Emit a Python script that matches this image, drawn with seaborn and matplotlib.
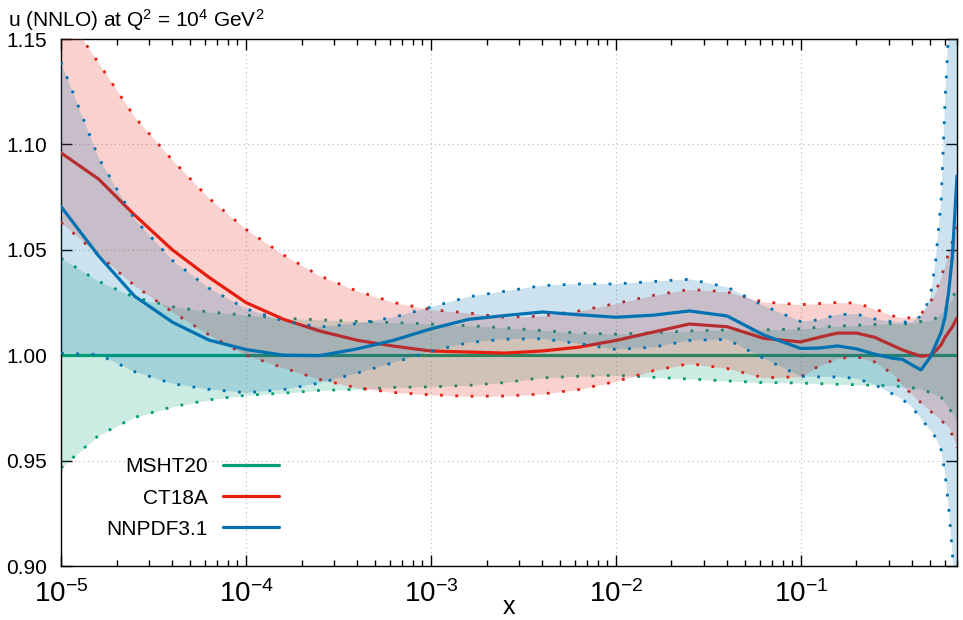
import numpy as np
import pandas as pd
import matplotlib
matplotlib.use("Agg")
import matplotlib.pyplot as plt
import seaborn as sns
from matplotlib.ticker import LogLocator, NullFormatter

# x grid
x_vals = [1e-5, 1.6e-5, 2.5e-5, 4e-5, 6.3e-5,
          1e-4, 1.6e-4, 2.5e-4, 4e-4, 6.3e-4,
          1e-3, 1.6e-3, 2.5e-3, 4e-3, 6.3e-3,
          1e-2, 1.6e-2, 2.5e-2, 4e-2, 6.3e-2,
          0.100, 0.126, 0.158, 0.200, 0.251, 0.316, 0.355, 0.398,
          0.447, 0.501, 0.537, 0.575, 0.603, 0.631, 0.661, 0.700]

msht_c = [1.0] * len(x_vals)
msht_up = [1.046, 1.035, 1.0275, 1.023, 1.0205, 1.019, 1.0175, 1.0168, 1.016, 1.0155,
           1.0148, 1.014, 1.013, 1.0117, 1.0105, 1.010, 1.0107, 1.0115, 1.012, 1.012,
           1.0125, 1.0133, 1.0138, 1.0142, 1.0146, 1.015, 1.0148, 1.0152, 1.016, 1.0165,
           1.0175, 1.020, 1.022, 1.024, 1.027, 1.032]
msht_lo = [0.9465, 0.962, 0.9705, 0.9755, 0.9788, 0.981, 0.982, 0.9833, 0.9838, 0.9847,
           0.985, 0.9857, 0.987, 0.9893, 0.990, 0.9905, 0.9895, 0.9887, 0.9878, 0.987,
           0.9868, 0.9865, 0.9862, 0.986, 0.9857, 0.9855, 0.985, 0.9845, 0.984, 0.9823,
           0.9812, 0.980, 0.9775, 0.975, 0.9725, 0.968]

ct18_c = [1.096, 1.0835, 1.0665, 1.050, 1.037, 1.025, 1.017, 1.0115, 1.0071, 1.0043,
          1.002, 1.0015, 1.001, 1.002, 1.0038, 1.007, 1.011, 1.0148, 1.0135, 1.008,
          1.0063, 1.0085, 1.0105, 1.0105, 1.0085, 1.0045, 1.0025, 1.001, 0.9995, 1.000,
          1.002, 1.005, 1.0085, 1.011, 1.0135, 1.0177]
ct18_up = [1.165, 1.1385, 1.113, 1.0926, 1.0745, 1.0597, 1.0475, 1.0377, 1.0304, 1.025,
           1.0216, 1.020, 1.018, 1.0186, 1.021, 1.0245, 1.0284, 1.0312, 1.030, 1.0252,
           1.024, 1.0245, 1.025, 1.0247, 1.022, 1.0186, 1.0178, 1.0177, 1.0195, 1.025,
           1.030, 1.037, 1.0428, 1.0487, 1.054, 1.061]
ct18_lo = [1.063, 1.0475, 1.033, 1.0205, 1.0097, 1.000, 0.994, 0.9885, 0.9845, 0.9823,
           0.9812, 0.9805, 0.9806, 0.9816, 0.9837, 0.9875, 0.9927, 0.996, 0.9937, 0.9893,
           0.9898, 0.995, 0.9984, 0.9993, 0.9968, 0.991, 0.9858, 0.9815, 0.9775, 0.9735,
           0.9715, 0.969, 0.9675, 0.966, 0.962, 0.956]

nnpdf_c = [1.0705, 1.047, 1.028, 1.0157, 1.0072, 1.0027, 1.000, 0.9998, 1.003, 1.0071,
           1.0125, 1.017, 1.0188, 1.0205, 1.0192, 1.018, 1.019, 1.021, 1.0186, 1.0096,
           1.0032, 1.0034, 1.0044, 1.003, 1.0005, 0.9985, 0.998, 0.9955, 0.993, 0.999,
           1.005, 1.011, 1.018, 1.030, 1.047, 1.085]
nnpdf_up = [1.139, 1.0935, 1.0645, 1.045, 1.0318, 1.022, 1.0162, 1.0134, 1.015, 1.018,
            1.0228, 1.0277, 1.0303, 1.033, 1.0338, 1.0338, 1.035, 1.036, 1.0323, 1.0235,
            1.016, 1.0168, 1.0193, 1.0195, 1.0172, 1.0157, 1.0157, 1.0157, 1.0185, 1.027,
            1.045, 1.074, 1.12, 1.155, 1.19, 1.24]
nnpdf_lo = [1.001, 1.0003, 0.9922, 0.9865, 0.9838, 0.9822, 0.9837, 0.9868, 0.9915, 0.9965,
            1.0018, 1.006, 1.0076, 1.0078, 1.0055, 1.0027, 1.0038, 1.007, 1.0075, 0.9985,
            0.990, 0.9897, 0.9897, 0.989, 0.986, 0.9815, 0.979, 0.9755, 0.970, 0.9645,
            0.961, 0.955, 0.944, 0.928, 0.906, 0.87]

labels = ["MSHT20", "CT18A", "NNPDF3.1"]
colors = ["#009e73", "#e51e10", "#0072b2"]
yticks = [0.90, 0.95, 1.00, 1.05, 1.10, 1.15]
ytick_labels = ["0.90", "0.95", "1.00", "1.05", "1.10", "1.15"]

sns.set_theme(style="ticks")
plt.rcParams["font.family"] = ["Liberation Sans", "DejaVu Sans"]
plt.rcParams["mathtext.fontset"] = "custom"
plt.rcParams["mathtext.rm"] = "Liberation Sans"
plt.rcParams["mathtext.it"] = "Liberation Sans:italic"
plt.rcParams["axes.unicode_minus"] = False
for key in ["text.color", "axes.labelcolor", "xtick.color", "ytick.color", "axes.edgecolor"]:
    plt.rcParams[key] = "black"

fig, ax = plt.subplots(figsize=(9.63, 6.2), dpi=100)
fig.subplots_adjust(left=61 / 963, right=957 / 963, bottom=1 - 566 / 620, top=1 - 39 / 620)
ax.set_xscale("log")

series = [(msht_c, msht_up, msht_lo), (ct18_c, ct18_up, ct18_lo), (nnpdf_c, nnpdf_up, nnpdf_lo)]
handles = []
for i, (cen, up, lo) in enumerate(series):
    df = pd.DataFrame({"x": x_vals, "c": cen, "up": up, "lo": lo})
    z = 2 * i + 1
    ax.fill_between(df["x"], df["lo"], df["up"], color=colors[i], alpha=0.2, lw=0, zorder=z)
    for col in ["up", "lo"]:
        sns.lineplot(data=df, x="x", y=col, ax=ax, color=colors[i], lw=2.0,
                     linestyle=(0, (1, 4.5)), errorbar=None, sort=False, zorder=z)
    sns.lineplot(data=df, x="x", y="c", ax=ax, color=colors[i], lw=2.3,
                 errorbar=None, sort=False, zorder=z + 1)
    handles.append(ax.lines[-1])

ax.set_xlim(1e-5, 0.70)
ax.set_ylim(0.90, 1.15)
ax.set_yticks(yticks)
ax.set_yticklabels(ytick_labels)
ax.xaxis.set_major_locator(LogLocator(base=10, numticks=12))
ax.xaxis.set_minor_locator(LogLocator(base=10, subs=np.arange(2, 10), numticks=40))
ax.xaxis.set_minor_formatter(NullFormatter())
ax.tick_params(which="both", direction="in", top=True, right=True, color="black")
ax.tick_params(which="major", length=8, width=1)
ax.tick_params(which="minor", length=4, width=1)
ax.tick_params(axis="x", labelsize=20, pad=10)
ax.tick_params(axis="y", labelsize=15, pad=10)
ax.grid(True, which="major", color="#b8b8b8", linestyle=(0, (1, 3)), linewidth=0.8)
for sp in ax.spines.values():
    sp.set_linewidth(1.0)
    sp.set_color("black")

ax.set_ylabel("")
ax.set_xlabel("x", fontsize=18)
ax.xaxis.set_label_coords(0.5, (566 - 614) / 527)
ax.xaxis.label.set_verticalalignment("baseline")

leg = ax.legend(handles, labels, loc="center", bbox_to_anchor=(0.147, 0.129), frameon=False,
                markerfirst=False, fontsize=15, handlelength=2.7, handletextpad=0.7,
                labelspacing=0.58)
for lh in leg.get_lines():
    lh.set_linewidth(2.3)

fig.text(8 / 963, 1 - 27 / 620, r"u (NNLO) at Q$^2$ = 10$^4$ GeV$^2$", fontsize=15,
         ha="left", va="baseline")

fig.savefig("out.png", dpi=100)
